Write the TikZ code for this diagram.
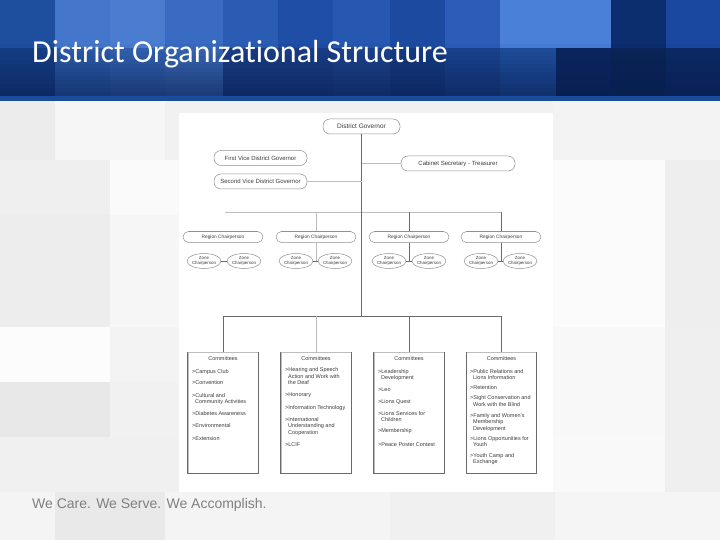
\documentclass[tikz,border=0pt]{standalone}
\usepackage{fontspec}
\setmainfont{Liberation Sans}
\newfontfamily\ttlfont[Ligatures=NoCommon]{Carlito}
\usetikzlibrary{shapes.geometric}
\definecolor{txt}{HTML}{3C3C3C}
\definecolor{dkline}{HTML}{6A6A6A}
\definecolor{ltline}{HTML}{BDBDBD}
\definecolor{bord}{HTML}{8F8F8F}
\definecolor{navy}{HTML}{071B4A}
\definecolor{stripe}{HTML}{1A4C9C}
\newcommand\citem[4]{\node[citem] (#1) at (#2,#3) {#4};}
\newcommand\ctile[5]{\definecolor{tilec}{HTML}{#5}\fill[tilec] (#1,#2) rectangle (#3,#4);}
\begin{document}
\begin{tikzpicture}[x=1pt,y=-1pt,
  citem/.style={anchor=west, inner sep=0pt, font=\fontsize{5.5}{6}\selectfont, text=txt},
  chead/.style={inner sep=0pt, font=\fontsize{5.5}{6}\selectfont, text=txt},
  rbox/.style={draw=bord, line width=0.5pt, fill=white, rounded corners=7pt, minimum height=15pt, inner sep=0pt, font=\fontsize{6}{7}\selectfont, text=txt},
  regbox/.style={draw=bord, line width=0.5pt, fill=white, rounded corners=5.5pt, minimum height=11pt, minimum width=80pt, inner sep=0pt, font=\fontsize{4.8}{5.5}\selectfont, text=txt},
  zonebox/.style={ellipse, draw=bord, line width=0.5pt, fill=white, minimum width=32pt, minimum height=15pt, inner sep=0pt, align=center, font=\fontsize{4.4}{4.8}\selectfont, text=txt},
  cbox/.style={draw=ltline, line width=0.4pt, fill=white, minimum width=70pt, minimum height=121pt, inner sep=0pt},
  dk/.style={draw=dkline, line width=0.9pt},
  lt/.style={draw=ltline, line width=0.8pt},
]
\useasboundingbox (0,0) rectangle (720,540);
% ---------- body background tiles ----------
\ctile{0}{100}{720}{540}{F1F1F1}
\ctile{0}{100}{55}{160}{ECECEC}
\ctile{55}{100}{165}{160}{F6F6F6}
\ctile{553}{100}{720}{160}{F3F3F3}
\ctile{0}{160}{110}{215}{EFEFEF}
\ctile{110}{160}{180}{215}{FAFAFA}
\ctile{553}{160}{665}{327}{FBFBFB}
\ctile{665}{160}{720}{327}{EEEEEE}
\ctile{0}{215}{110}{327}{EDEDED}
\ctile{110}{215}{180}{327}{F6F6F6}
\ctile{0}{327}{110}{382}{FCFCFC}
\ctile{110}{327}{180}{382}{F3F3F3}
\ctile{0}{382}{110}{437}{E8E8E8}
\ctile{553}{327}{665}{437}{F8F8F8}
\ctile{665}{327}{720}{492}{EFEFEF}
\ctile{0}{437}{180}{492}{F0F0F0}
\ctile{553}{437}{665}{492}{F9F9F9}
\ctile{0}{492}{55}{540}{F4F4F4}
\ctile{55}{492}{165}{540}{E9E9E9}
\ctile{165}{492}{390}{540}{F4F4F4}
\ctile{390}{492}{555}{540}{F0F0F0}
\ctile{555}{492}{720}{540}{F5F5F5}
% ---------- header tiles ----------
\ctile{0}{0}{55}{48}{1D4F9E}
\ctile{55}{0}{110}{48}{4477CC}
\ctile{110}{0}{165}{48}{4A7DD0}
\ctile{165}{0}{223}{48}{3A6BC2}
\ctile{223}{0}{278}{48}{2A5CB4}
\ctile{278}{0}{333}{48}{1E4EA6}
\ctile{333}{0}{390}{48}{2658B2}
\ctile{390}{0}{445}{48}{1C4AA0}
\ctile{445}{0}{500}{48}{2A5CB8}
\ctile{500}{0}{556}{48}{4A80D8}
\ctile{556}{0}{611}{48}{4A80D8}
\ctile{611}{0}{666}{48}{0C2D6E}
\ctile{666}{0}{720}{48}{1A48A0}
\ctile{0}{48}{55}{97}{16408A}
\ctile{55}{48}{110}{97}{2D5FB0}
\ctile{110}{48}{165}{97}{3565B5}
\ctile{165}{48}{223}{97}{3A6AB8}
\ctile{223}{48}{278}{97}{1A3F8A}
\ctile{278}{48}{333}{97}{1A3F8A}
\ctile{333}{48}{390}{97}{1D4490}
\ctile{390}{48}{445}{97}{163C85}
\ctile{445}{48}{500}{97}{1A4592}
\ctile{500}{48}{556}{97}{2050A0}
\ctile{556}{48}{611}{97}{0B2660}
\ctile{611}{48}{666}{97}{0A2558}
\ctile{666}{48}{720}{97}{0D2A66}
\foreach \i in {0,...,13} {
  \fill[navy, opacity=\i*0.045] (0,{40+\i*4}) rectangle (720,{44+\i*4});
}
\fill[stripe] (0,96) rectangle (720,101);
\node[anchor=base west, inner sep=0pt, text=white, font=\ttlfont\fontsize{32}{36}\selectfont] (title) at (32,63) {District Organizational Structure};
% ---------- chart panel ----------
\fill[white] (179,113) rectangle (553,492);
% ---------- top level ----------
\node[rbox, minimum width=77pt, font=\fontsize{6.5}{7}\selectfont] (dg) at (361.5,126.5) {District Governor};
\node[rbox, minimum width=93pt] (fvdg) at (260.5,158) {First Vice District Governor};
\node[rbox, minimum width=93pt] (svdg) at (260.5,181.5) {Second Vice District Governor};
\node[rbox, minimum width=114pt] (cab) at (458,163.5) {Cabinet Secretary - Treasurer};
% ---------- regions ----------
\node[regbox] (r1) at (223,237) {Region Chairperson};
\node[regbox] (r2) at (316,237) {Region Chairperson};
\node[regbox] (r3) at (409,237) {Region Chairperson};
\node[regbox] (r4) at (501,237) {Region Chairperson};
% ---------- zones ----------
\node[zonebox] (z1) at (204,261) {Zone\\Chairperson};
\node[zonebox] (z2) at (244,261) {Zone\\Chairperson};
\node[zonebox] (z3) at (296,261) {Zone\\Chairperson};
\node[zonebox] (z4) at (335,261) {Zone\\Chairperson};
\node[zonebox] (z5) at (389,261) {Zone\\Chairperson};
\node[zonebox] (z6) at (429,261) {Zone\\Chairperson};
\node[zonebox] (z7) at (481,261) {Zone\\Chairperson};
\node[zonebox] (z8) at (520,261) {Zone\\Chairperson};
% ---------- committees ----------
\node[cbox] (c1) at (223,412.5) {};
\node[cbox] (c2) at (316,412.5) {};
\node[cbox] (c3) at (409,412.5) {};
\node[cbox] (c4) at (501.5,412.5) {};
\foreach \c in {c1,c2,c3,c4} {
  \draw[dk, line width=1pt] (\c.north west) -- (\c.south west) -- (\c.south east) -- (\c.north east);
}
% ---------- connectors ----------
\coordinate (rl) at (225,212);
\coordinate (rr) at (501,212);
\coordinate (j) at (361.5,316);
\draw[lt] (rl) -- (rr);
\draw[dk] (dg.south) -- (dg.south |- j);
\draw[lt] (dg.south |- cab.west) -- (cab.west);
\draw[lt] (svdg.east) -- (svdg.east -| dg.south);
\draw[lt] (r2.north |- rl) -- (r2.north);
\draw[dk] (r3.north |- rl) -- (r3.north);
\draw[dk] (r4.north |- rl) -- (r4.north);
\draw[lt] (r2.south) -- (r2.south |- z3.east);
\draw[dk] (r3.south) -- (r3.south |- z5.east);
\draw[dk] (r4.south) -- (r4.south |- z7.east);
\draw[dk, line width=0.6pt] (z1.east) -- (z2.west);
\draw[dk, line width=0.6pt] (z3.east) -- (z4.west);
\draw[dk, line width=0.6pt] (z5.east) -- (z6.west);
\draw[dk, line width=0.6pt] (z7.east) -- (z8.west);
\draw[dk] (c1.north) -- (c1.north |- j) -- (c4.north |- j) -- (c4.north);
\draw[lt] (c2.north |- j) -- (c2.north);
\draw[dk] (c3.north |- j) -- (c3.north);
% ---------- committee texts ----------
\node[chead] (h1) at (223,359) {Committees};
\citem{a1}{192}{372}{>Campus Club}
\citem{a2}{192}{383}{>Convention}
\citem{a3}{192}{396}{>Cultural and}
\citem{a3b}{195}{402}{Community Activities}
\citem{a4}{192}{414}{>Diabetes Awareness}
\citem{a5}{192}{426}{>Environmental}
\citem{a6}{192}{439}{>Extension}
\node[chead] (h2) at (316,359) {Committees};
\citem{b1}{285}{370}{>Hearing and Speech}
\citem{b1b}{288}{376.5}{Action and Work with}
\citem{b1c}{288}{383}{the Deaf}
\citem{b2}{285}{395}{>Honorary}
\citem{b3}{285}{408}{>Information Technology}
\citem{b4}{285}{420}{>International}
\citem{b4b}{288}{426.5}{Understanding and}
\citem{b4c}{288}{433}{Cooperation}
\citem{b5}{285}{445}{>LCIF}
\node[chead] (h3) at (409,359) {Committees};
\citem{d1}{378}{372}{>Leadership}
\citem{d1b}{381}{378}{Development}
\citem{d2}{378}{390}{>Leo}
\citem{d3}{378}{402}{>Lions Quest}
\citem{d4}{378}{414}{>Lions Services for}
\citem{d4b}{381}{420}{Children}
\citem{d5}{378}{431}{>Membership}
\citem{d6}{378}{445}{>Peace Poster Contest}
\node[chead] (h4) at (501.5,359) {Committees};
\citem{e1}{470}{372}{>Public Relations and}
\citem{e1b}{473}{378}{Lions Information}
\citem{e2}{470}{388}{>Retention}
\citem{e3}{470}{398}{>Sight Conservation and}
\citem{e3b}{473}{404.5}{Work with the Blind}
\citem{e4}{470}{416}{>Family and Women's}
\citem{e4b}{473}{422.5}{Membership}
\citem{e4c}{473}{429}{Development}
\citem{e5}{470}{439}{>Lions Opportunities for}
\citem{e5b}{473}{445}{Youth}
\citem{e6}{470}{456}{>Youth Camp and}
\citem{e6b}{473}{462}{Exchange}
% ---------- footer ----------
\node[anchor=base west, inner sep=0pt, text=gray, font=\fontsize{14}{16}\selectfont] (foot) at (32,508) {We Care. We Serve. We Accomplish.};
\end{tikzpicture}
\end{document}
